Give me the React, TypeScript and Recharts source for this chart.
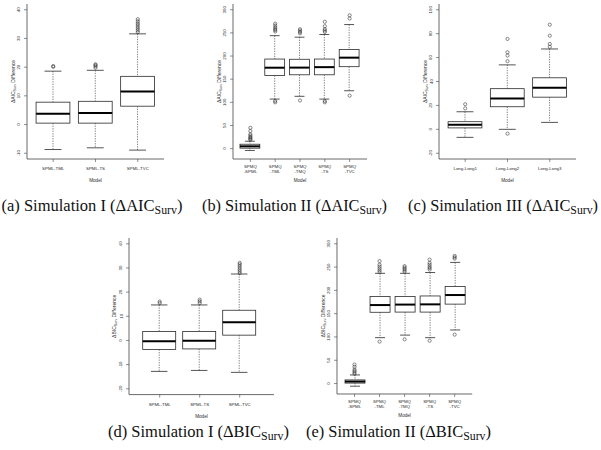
import React from 'react';
import { ComposedChart, Bar, Scatter, XAxis, YAxis } from 'recharts';

// ---------- (a) Simulation I, ΔAIC ----------
const aModels = ['SPML-TML', 'SPML-TS', 'SPML-TVC'];
const aLower = [-8.7, -8.1, -8.9];
const aQ1 = [0.5, 0.5, 6.4];
const aMedian = [3.8, 4.0, 11.5];
const aQ3 = [7.8, 8.1, 16.8];
const aUpper = [18.6, 18.9, 31.6];
const aOutliers = [
  [20.1, 20.4],
  [19.8, 20.3, 20.7, 21.0],
  [32.2, 32.8, 33.4, 34.0, 34.7, 35.3, 36.0, 36.7],
];
const aTicks = [-10, 0, 10, 20, 30, 40];
const aDomain = [-12, 42];

// ---------- (b) Simulation II, ΔAIC ----------
const bModels = ['SPMQ-SPML', 'SPMQ-TML', 'SPMQ-TMQ', 'SPMQ-TS', 'SPMQ-TVC'];
const bLower = [-4, 107, 113, 107, 125];
const bQ1 = [1, 158, 159.5, 159.5, 177];
const bMedian = [5, 174.8, 175, 176, 196.5];
const bQ3 = [9.5, 193.5, 193, 193.5, 214];
const bUpper = [16, 244, 240.7, 246.5, 268];
const bOutliers = [
  [19, 21, 23, 25, 28, 31, 38, 45],
  [253, 256, 259, 262, 266, 270, 100, 103],
  [249, 252, 255, 258, 104],
  [252, 255, 258, 264.5, 274, 100, 103],
  [281, 288, 114.5],
];
const bTicks = [0, 50, 100, 150, 200, 250, 300];
const bDomain = [-22.4, 312.4];

// ---------- (c) Simulation III, ΔAIC ----------
const cModels = ['Long-Long1', 'Long-Long2', 'Long-Long3'];
const cLower = [-6.7, 0, 5.8];
const cQ1 = [1.2, 18.9, 26.9];
const cMedian = [3.8, 25.8, 34.7];
const cQ3 = [6.4, 34, 43.1];
const cUpper = [14.7, 53.9, 67.2];
const cOutliers = [
  [17.5, 21],
  [57, 61.7, 64.4, 75.6, -3.6],
  [69, 71.4, 78.3, 87.5],
];
const cTicks = [-20, 0, 20, 40, 60, 80, 100];
const cDomain = [-24.8, 104.8];

// ---------- (d) Simulation I, ΔBIC ----------
const dModels = ['SPML-TML', 'SPML-TS', 'SPML-TVC'];
const dLower = [-12.8, -12.4, -13.2];
const dQ1 = [-3.75, -3.5, 2.2];
const dMedian = [-0.3, -0.1, 7.5];
const dQ3 = [3.75, 3.75, 12.5];
const dUpper = [14.7, 14.7, 27.5];
const dOutliers = [
  [15.5, 16.1],
  [15.5, 16.2, 16.9],
  [27.9, 28.6, 29.3, 30.0, 30.8, 31.5, 32.1],
];
const dTicks = [-20, -10, 0, 10, 20, 30, 40];
const dDomain = [-22.4, 42.4];

// ---------- (e) Simulation II, ΔBIC ----------
const eModels = ['SPMQ-SPML', 'SPMQ-TML', 'SPMQ-TMQ', 'SPMQ-TS', 'SPMQ-TVC'];
const eLower = [-5.7, 98.5, 104, 98.5, 115];
const eQ1 = [1, 153, 153.4, 153.4, 170.5];
const eMedian = [4.3, 168.5, 169.5, 170, 190];
const eQ3 = [7.8, 187, 187, 188, 208.5];
const eUpper = [18.5, 236.6, 236.6, 238.3, 260];
const eOutliers = [
  [21, 24, 27, 30, 35.8, 40.8],
  [239.4, 243, 247, 251, 255, 262.8, 90],
  [240, 243, 246, 249, 252, 95],
  [244.6, 248, 251, 255, 259, 266, 92],
  [268, 271, 274, 105],
];
const eTicks = [0, 50, 100, 150, 200, 250, 300];
const eDomain = [-22.4, 312.4];

// ---------- captions ----------
const captionTags = ['(a)', '(b)', '(c)', '(d)', '(e)'];
const captionSims = ['I', 'II', 'III', 'I', 'II'];
const captionMetrics = ['AIC', 'AIC', 'AIC', 'BIC', 'BIC'];

const MAX_OUTLIERS = 8;
const INK = '#2a2a2a';
const SANS = '"Liberation Sans", Arial, Helvetica, sans-serif';
const SERIF = '"Liberation Serif", "Times New Roman", serif';
const outlierKeys = Array.from({ length: MAX_OUTLIERS }, (_, k) => 'o' + k);

function buildRows(models: string[], lower: number[], q1: number[], med: number[], q3: number[], upper: number[], outliers: number[][]) {
  return models.map((name, i) => {
    const row: any = { name, whisker: [lower[i], upper[i]], lower: lower[i], q1: q1[i], median: med[i], q3: q3[i], upper: upper[i] };
    outlierKeys.forEach((k, j) => {
      const v = outliers[i][j];
      row[k] = v === undefined ? null : v;
    });
    return row;
  });
}

const BoxShape = (props: any) => {
  const { x, y, width, height, payload } = props;
  if (payload == null || x == null || y == null) return <g />;
  const top = Math.min(y, y + height);
  const h = Math.abs(height);
  const hi = payload.upper;
  const lo = payload.lower;
  const py = (v: number) => top + ((hi - v) / (hi - lo)) * h;
  const cx = x + width / 2;
  const cap = width / 4;
  const dash = '1.3 1.2';
  return (
    <g>
      <line x1={cx} x2={cx} y1={py(hi)} y2={py(payload.q3)} stroke={INK} strokeWidth={0.6} strokeDasharray={dash} />
      <line x1={cx} x2={cx} y1={py(payload.q1)} y2={py(lo)} stroke={INK} strokeWidth={0.6} strokeDasharray={dash} />
      <line x1={cx - cap} x2={cx + cap} y1={py(hi)} y2={py(hi)} stroke={INK} strokeWidth={0.8} />
      <line x1={cx - cap} x2={cx + cap} y1={py(lo)} y2={py(lo)} stroke={INK} strokeWidth={0.8} />
      <rect x={x} y={py(payload.q3)} width={width} height={py(payload.q1) - py(payload.q3)} fill="#fff" stroke={INK} strokeWidth={0.8} />
      <line x1={x} x2={x + width} y1={py(payload.median)} y2={py(payload.median)} stroke="#000" strokeWidth={2} />
    </g>
  );
};

const makeOutlierShape = (key: string) => (props: any) => {
  const { cx, cy, payload } = props;
  if (payload == null || payload[key] == null || cx == null || cy == null || isNaN(cy)) return <g />;
  return <circle cx={cx} cy={cy} r={1.6} fill="none" stroke={INK} strokeWidth={0.55} />;
};

const YTick = (props: any) => {
  const { x, y, payload } = props;
  const tx = x - 1.5;
  return (
    <text x={tx} y={y} transform={`rotate(-90 ${tx} ${y})`} textAnchor="middle" fontFamily={SANS} fontSize={4.4} fill={INK}>
      {String(payload.value)}
    </text>
  );
};

const XTick = (props: any) => {
  const { x, y, payload, twoLine } = props;
  const label: string = String(payload.value);
  if (twoLine) {
    const idx = label.indexOf('-');
    const l1 = label.slice(0, idx);
    const l2 = label.slice(idx);
    return (
      <g>
        <text x={x} y={y + 5} textAnchor="middle" fontFamily={SANS} fontSize={4.4} fill={INK}>{l1}</text>
        <text x={x} y={y + 10} textAnchor="middle" fontFamily={SANS} fontSize={4.4} fill={INK}>{l2}</text>
      </g>
    );
  }
  return (
    <text x={x} y={y + 7} textAnchor="middle" fontFamily={SANS} fontSize={4.4} fill={INK}>{label}</text>
  );
};

type PanelSpec = {
  rows: any[];
  n: number;
  domain: number[];
  ticks: number[];
  metric: string;
  twoLine: boolean;
  L: number; T: number; R: number; B: number;
  padL?: number; padR?: number; boxWidth?: number;
};

function BoxPanel({ p }: { p: PanelSpec }) {
  const W = p.R - p.L;
  const H = p.B - p.T;
  const unit = W / (p.n * 1.08);
  const padL = p.padL ?? 0.04 * p.n * unit;
  const padR = p.padR ?? 0.04 * p.n * unit;
  const band = (W - padL - padR) / p.n;
  const barSize = p.boxWidth ?? 0.8 * band;
  const LS = 32, RS = 8, TS = 4, BS = 32;
  const cw = W + LS + RS;
  const ch = H + TS + BS;
  const axisStroke = { stroke: '#444', strokeWidth: 0.8 };
  const tickStroke = { stroke: '#444', strokeWidth: 0.6 };
  return (
    <div style={{ position: 'absolute', left: p.L - LS, top: p.T - TS, width: cw, height: ch }}>
      <ComposedChart width={cw} height={ch} data={p.rows} margin={{ top: TS, right: RS, bottom: 0, left: 0 }}>
        <XAxis
          dataKey="name"
          type="category"
          padding={{ left: padL, right: padR }}
          height={BS}
          interval={0}
          tickSize={3}
          tickMargin={1}
          tickLine={tickStroke}
          axisLine={axisStroke}
          tick={<XTick twoLine={p.twoLine} />}
        />
        <XAxis
          xAxisId="top"
          orientation="top"
          dataKey="name"
          type="category"
          height={0}
          tick={false}
          tickLine={false}
          axisLine={axisStroke}
        />
        <YAxis
          type="number"
          domain={p.domain}
          ticks={p.ticks}
          allowDataOverflow
          interval={0}
          width={LS}
          tickSize={3}
          tickMargin={2}
          tickLine={tickStroke}
          axisLine={axisStroke}
          tick={<YTick />}
        />
        <YAxis
          yAxisId="right"
          orientation="right"
          type="number"
          domain={p.domain}
          allowDataOverflow
          width={0}
          tick={false}
          tickLine={false}
          axisLine={axisStroke}
        />
        <Bar dataKey="whisker" barSize={barSize} shape={BoxShape} isAnimationActive={false} />
        {outlierKeys.map((k) => (
          <Scatter key={k} dataKey={k} shape={makeOutlierShape(k)} isAnimationActive={false} />
        ))}
      </ComposedChart>
      <svg width={cw} height={ch} style={{ position: 'absolute', left: 0, top: 0, pointerEvents: 'none' }}>
        <text
          x={LS - 12.5}
          y={TS + H / 2}
          transform={`rotate(-90 ${LS - 12.5} ${TS + H / 2})`}
          textAnchor="middle"
          fontFamily={SANS}
          fontSize={5}
          fill={INK}
        >
          {'Δ' + p.metric}
          <tspan fontSize={3.6} dy={1}>Surv</tspan>
          <tspan dy={-1}>{' Difference'}</tspan>
        </text>
        <text x={LS + W / 2} y={TS + H + 23} textAnchor="middle" fontFamily={SANS} fontSize={4.6} fill={INK}>
          Model
        </text>
      </svg>
    </div>
  );
}

const panels: PanelSpec[] = [
  { rows: buildRows(aModels, aLower, aQ1, aMedian, aQ3, aUpper, aOutliers), n: 3, domain: aDomain, ticks: aTicks, metric: 'AIC', twoLine: false, L: 27, T: 4, R: 164, B: 159 },
  { rows: buildRows(bModels, bLower, bQ1, bMedian, bQ3, bUpper, bOutliers), n: 5, domain: bDomain, ticks: bTicks, metric: 'AIC', twoLine: true, L: 232.5, T: 4, R: 366.5, B: 159 },
  { rows: buildRows(cModels, cLower, cQ1, cMedian, cQ3, cUpper, cOutliers), n: 3, domain: cDomain, ticks: cTicks, metric: 'AIC', twoLine: false, L: 439, T: 4, R: 576, B: 159 },
  { rows: buildRows(dModels, dLower, dQ1, dMedian, dQ3, dUpper, dOutliers), n: 3, domain: dDomain, ticks: dTicks, metric: 'BIC', twoLine: false, L: 129.3, T: 237.7, R: 274.3, B: 394.3, padL: 10.7, padR: 14.3, boxWidth: 33 },
  { rows: buildRows(eModels, eLower, eQ1, eMedian, eQ3, eUpper, eOutliers), n: 5, domain: eDomain, ticks: eTicks, metric: 'BIC', twoLine: true, L: 336.5, T: 238, R: 471.7, B: 394 },
];

const captionCenters = [92, 294.5, 503, 198.5, 398.5];
const captionBaselines = [211, 211, 211, 437, 437];
const captionWidths = [181, 185, 190, 181, 185];

export default function App() {
  return (
    <div style={{ position: 'absolute', left: 0, top: 0, width: 601, height: 450, background: '#fff', overflow: 'hidden' }}>
      {panels.map((p, i) => (
        <BoxPanel key={i} p={p} />
      ))}
      <svg width={601} height={450} style={{ position: 'absolute', left: 0, top: 0, pointerEvents: 'none' }}>
        {captionTags.map((tag, i) => (
          <text
            key={i}
            x={captionCenters[i]}
            y={captionBaselines[i]}
            textAnchor="middle"
            fontFamily={SERIF}
            fontSize={16}
            fill="#111"
            textLength={captionWidths[i]}
            lengthAdjust="spacingAndGlyphs"
          >
            {`${tag} Simulation ${captionSims[i]} (Δ${captionMetrics[i]}`}
            <tspan fontSize={11.5} dy={3}>Surv</tspan>
            <tspan dy={-3}>)</tspan>
          </text>
        ))}
      </svg>
    </div>
  );
}
